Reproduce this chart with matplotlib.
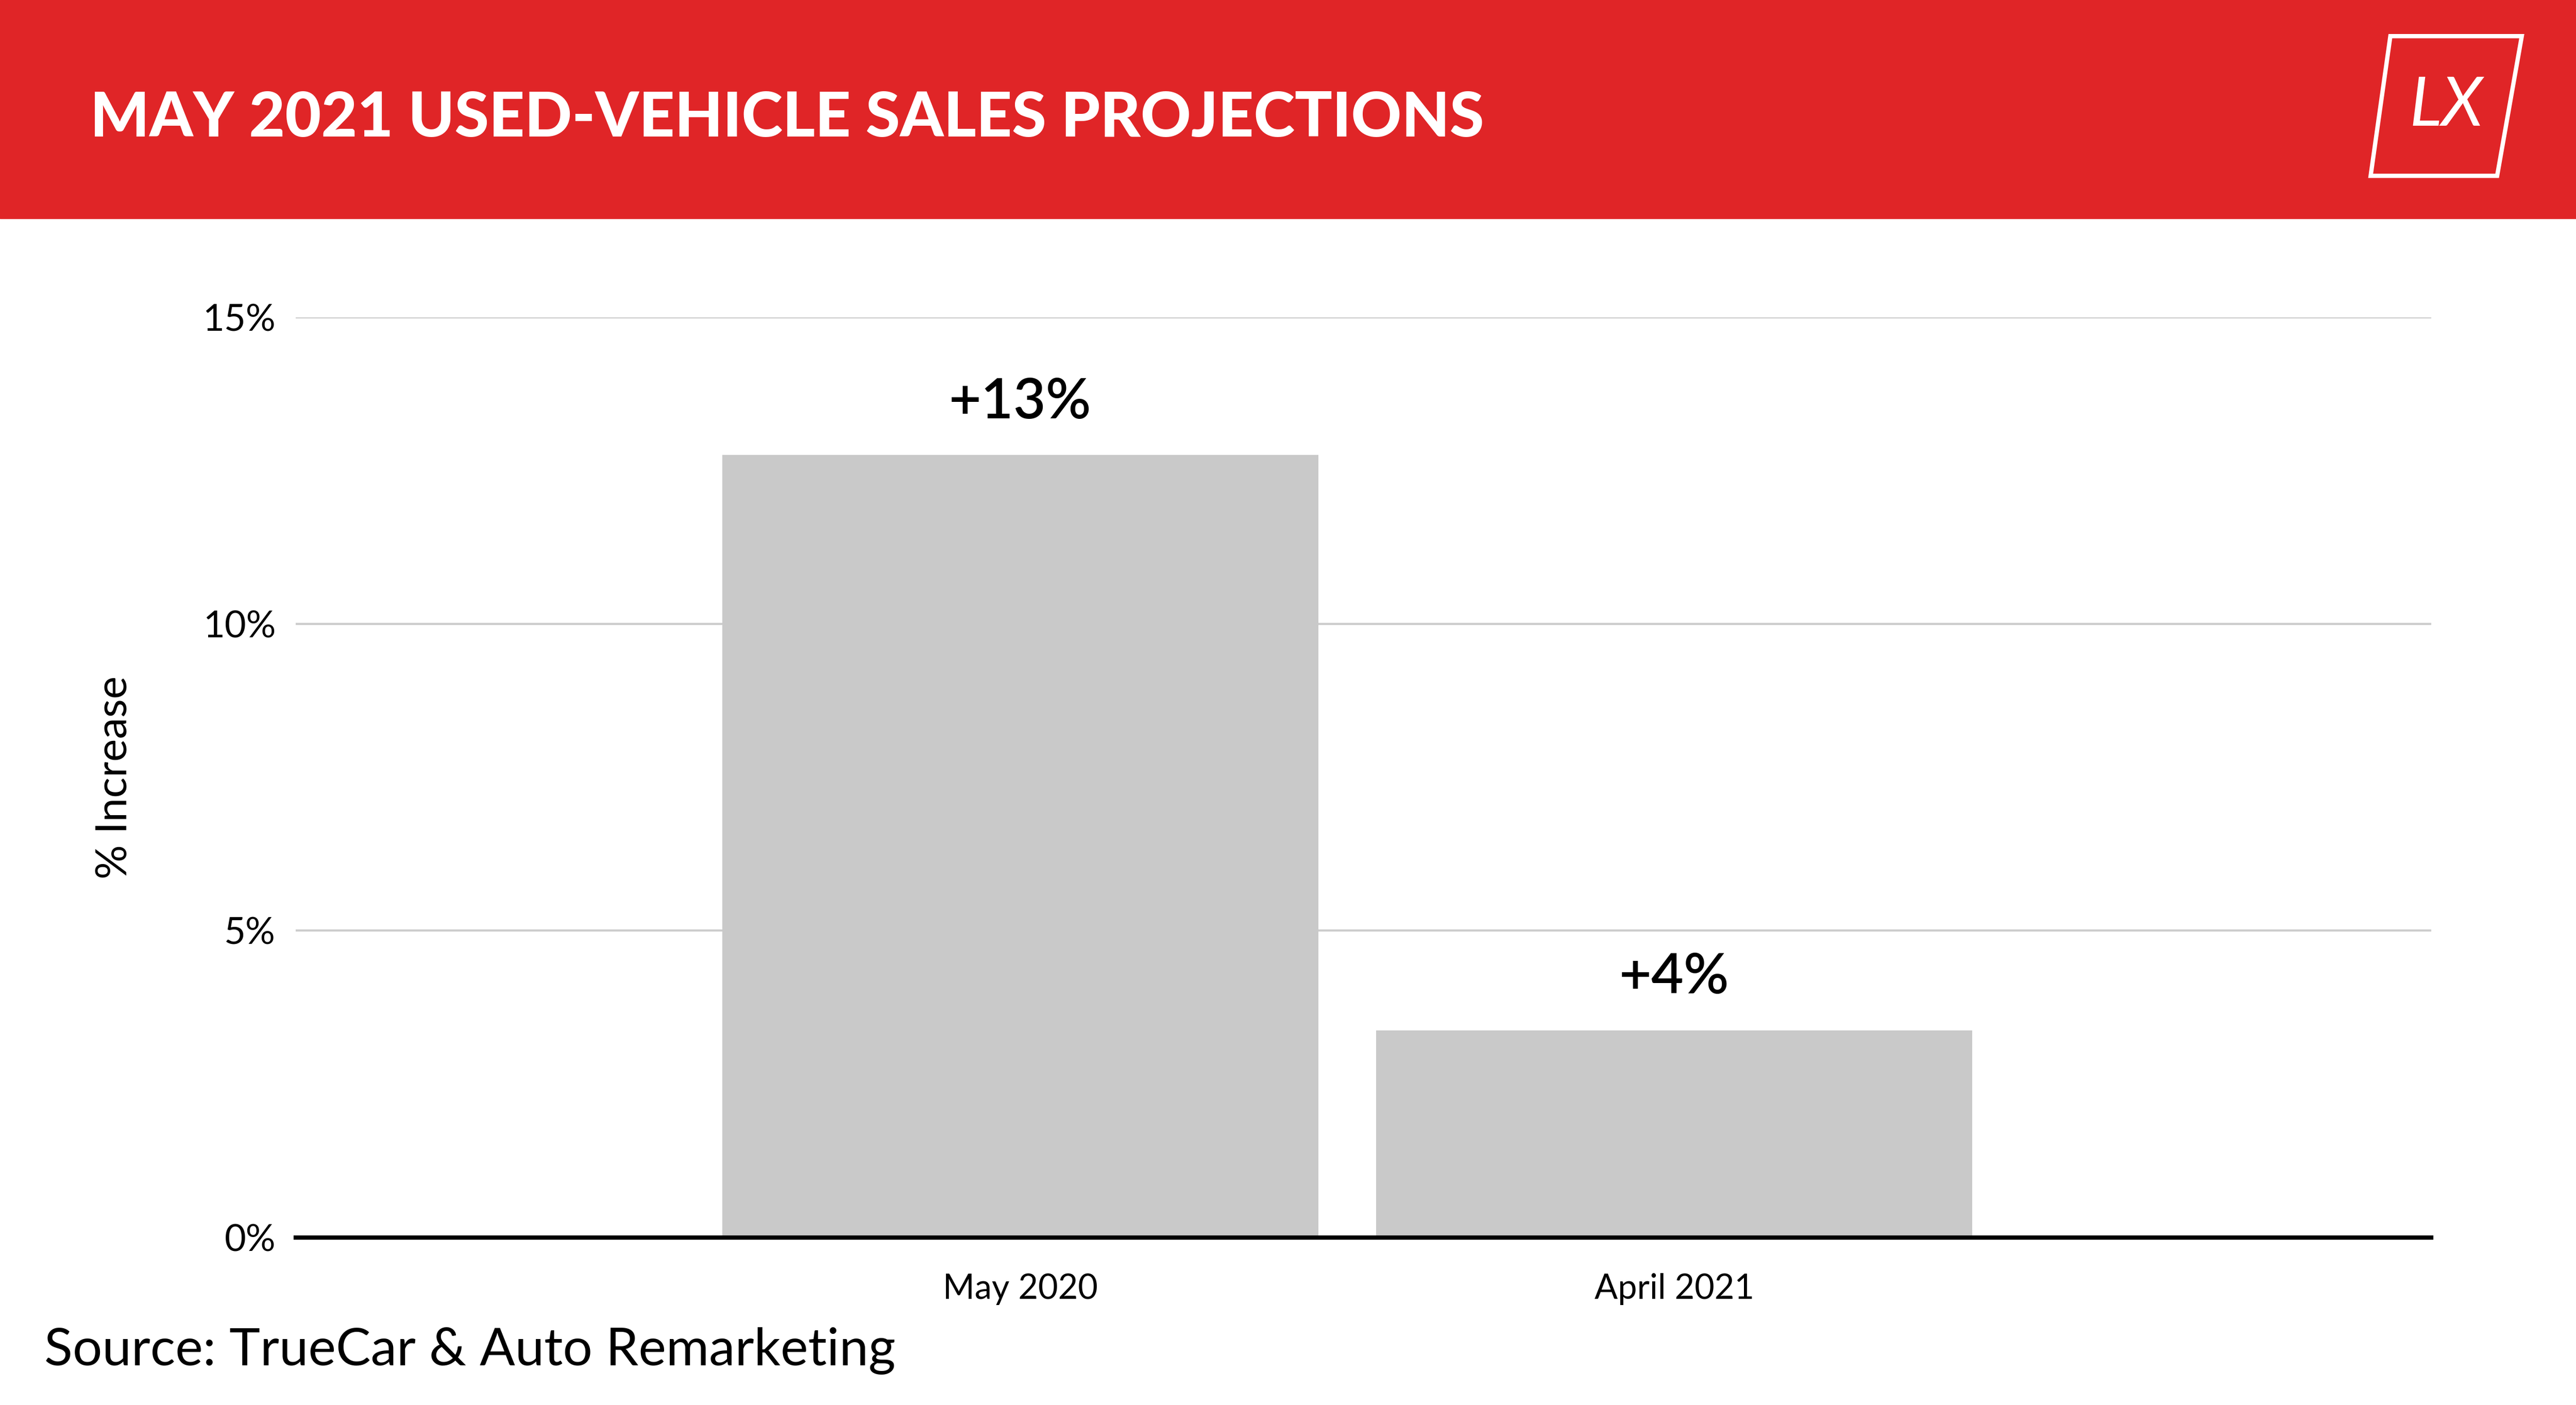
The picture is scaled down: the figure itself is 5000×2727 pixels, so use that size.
import matplotlib
matplotlib.use("Agg")
import matplotlib.pyplot as plt
from matplotlib.patches import Rectangle, Polygon

# Chart data
categories = ["May 2020", "April 2021"]
values = [12.75, 3.375]
bar_labels = ["+13%", "+4%"]
y_ticks = [0, 5, 10, 15]
y_tick_labels = ["0%", "5%", "10%", "15%"]

W, H = 1568, 855  # reference layout units

plt.rcParams['font.family'] = ['Lato', 'DejaVu Sans']
fig = plt.figure(figsize=(50, 27.27), dpi=100)
fig.patch.set_facecolor("white")

# Red header banner
fig.patches.append(Rectangle((0, 1 - 133 / H), 1, 133 / H, transform=fig.transFigure,
                             color="#e02527", zorder=0))
fig.text(55 / W, 1 - 72 / H, "MAY 2021 USED-VEHICLE SALES PROJECTIONS", color="white",
         fontsize=87, fontweight="black", va="center", ha="left")

# Logo
pts = [(1455, 22), (1535, 22), (1520, 107), (1443, 107)]
fig.patches.append(Polygon([(x / W, 1 - y / H) for x, y in pts], closed=True, fill=False,
                           edgecolor="white", linewidth=6, transform=fig.transFigure))
fig.text(1489 / W, 1 - 65 / H, "LX", color="white", fontsize=95, style="italic",
         ha="center", va="center")

ax = fig.add_axes([180 / W, 1 - 753 / H, 1300 / W, 560 / H])
x = range(len(categories))
ax.bar(x, values, width=0.912, color="#c9c9c9", zorder=2)
for i, (v, lab) in enumerate(zip(values, bar_labels)):
    ax.text(i, v + 0.45, lab, ha="center", va="bottom", fontsize=78, fontweight="semibold")

ax.set_xlim(-1.108, 2.158)
ax.set_ylim(0, 15)
ax.set_yticks(y_ticks)
ax.set_yticklabels(y_tick_labels, fontsize=52)
ax.set_xticks(list(x))
ax.set_xticklabels(categories, fontsize=48)
ax.tick_params(axis="y", length=0, pad=28)
ax.tick_params(axis="x", length=0, pad=50)
ax.grid(axis="y", color="#cccccc", linewidth=3, zorder=0)
for s in ["top", "right", "left"]:
    ax.spines[s].set_visible(False)
ax.spines["bottom"].set_linewidth(6)
ax.spines["bottom"].set_zorder(3)
ax.set_ylabel("% Increase", fontsize=60, labelpad=95)

fig.text(27 / W, 1 - 822 / H, "Source: TrueCar & Auto Remarketing", fontsize=73,
         ha="left", va="center")

fig.savefig("out.png", dpi=100)
